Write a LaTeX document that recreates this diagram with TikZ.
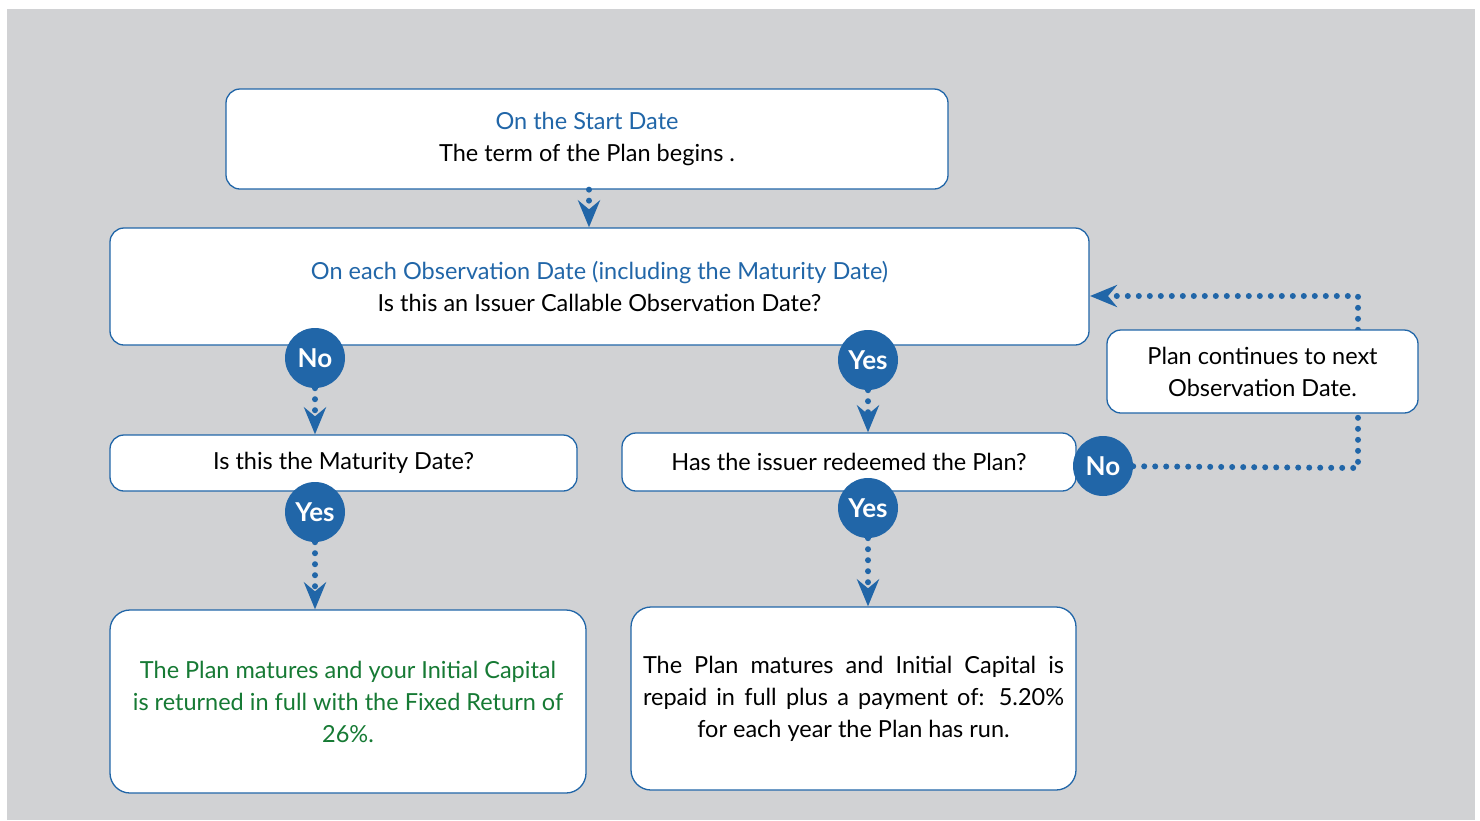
\documentclass[tikz,border=0pt]{standalone}
\usepackage{fontspec}
\setmainfont{Lato}
\usetikzlibrary{arrows.meta}
\definecolor{planblue}{RGB}{33,102,168}
\definecolor{plangreen}{RGB}{22,122,52}
\definecolor{bggray}{RGB}{209,210,212}

\begin{document}
\begin{tikzpicture}[x=1pt,y=-1pt,>={Stealth[length=27pt,width=22pt,inset=9pt]}]
  \tikzset{box/.style={draw=planblue, fill=white, line width=1.3pt, rounded
      corners=14pt, align=center, inner sep=0pt,
      font=\fontsize{23.5}{32}\selectfont},
    answer/.style={circle, fill=planblue, text=white, inner sep=0pt,
      minimum size=60pt, font=\fontsize{26}{30}\selectfont\bfseries},
    flow/.style={draw=planblue, line width=6pt, line cap=round,
      dash pattern=on 0pt off 11pt, ->}}
  \useasboundingbox (0,0) rectangle (1480,820);
  \fill[bggray] (7,9) rectangle (1475,820);

  \node[box, minimum width=722pt, minimum height=100pt] (start) at (587,139)
    {{\color{planblue}On the Start Date}\\The term of the Plan begins .};
  \node[box, minimum width=979pt, minimum height=117pt] (obs) at (599.5,286.5)
    {{\color{planblue}On each Observation Date (including the Maturity Date)}\\Is
    this an Issuer Callable Observation Date?};
  \node[box, minimum width=467pt, minimum height=56pt] (mat) at (343.5,463)
    {Is this the Maturity Date?};
  \node[box, minimum width=454pt, minimum height=58pt] (redeem) at (849,462)
    {Has the issuer redeemed the Plan?};
  \node[box, text=plangreen, rounded corners=20pt, minimum width=476pt,
    minimum height=183pt] (fixed) at (348,701.5)
    {The Plan matures and your Initial Capital\\is returned in full with
    the Fixed Return of\\26\%.};
  \node[box, rounded corners=20pt, minimum width=445pt, minimum height=183pt]
    (coupon) at (853.5,698.5)
    {\makebox[421pt][s]{The Plan matures and Initial Capital is}\\
    \makebox[421pt][s]{repaid in full plus a payment of: 5.20\%}\\for each
    year the Plan has run.};

  \node[answer] (no1) at (315,358) {No};
  \node[answer] (yes1) at (868,360) {Yes};
  \node[answer] (yes2) at (315,512) {Yes};
  \node[answer] (yes3) at (868,508) {Yes};
  \node[answer] (no2) at (1103,466) {No};

  \path[flow] (start.south -| 589,0) -- (obs.north -| 589,0);
  \path[flow] (no1) -- (no1 |- mat.north);
  \path[flow] (yes1) -- (yes1 |- redeem.north);
  \path[flow] (yes2) -- (yes2 |- fixed.north);
  \path[flow] (yes3) -- (yes3 |- coupon.north);

  % loop back, drawn before the box that covers it
  \coordinate (turn) at (1358,468);
  \coordinate (back) at (1090,296);
  \path[flow] (no2) -- (turn) |- (back);
  \node[box, minimum width=311pt, minimum height=83pt] (next) at (1262.5,371.5)
    {Plan continues to next\\Observation Date.};
\end{tikzpicture}
\end{document}
